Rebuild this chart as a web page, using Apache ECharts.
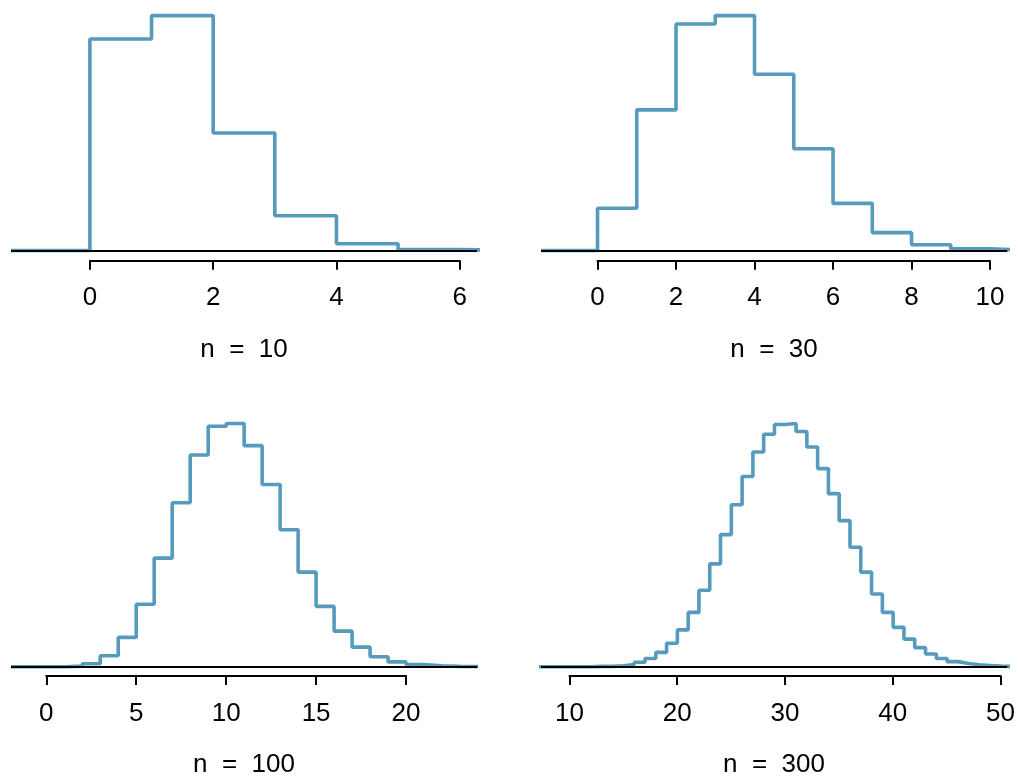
<!DOCTYPE html>
<html>
<head>
<meta charset="utf-8">
<script src="https://cdn.jsdelivr.net/npm/echarts@6/dist/echarts.min.js"></script>
<style>
html,body{margin:0;padding:0;background:#fff;}
#chart{width:1018px;height:776px;}
</style>
</head>
<body>
<div id="chart"></div>
<script>
// ---- data ----
const k10 = [0, 1, 2, 3, 4, 5, 6, 7];
const p10 = [0.3487, 0.3874, 0.1937, 0.0574, 0.0112, 0.0015, 0.0001, 0.0000];

const k30 = [0, 1, 2, 3, 4, 5, 6, 7, 8, 9, 10, 11];
const p30 = [0.0424, 0.1413, 0.2277, 0.2361, 0.1771, 0.1023, 0.0474, 0.0180, 0.0058, 0.0016, 0.0004, 0.0001];

const k100 = [0, 1, 2, 3, 4, 5, 6, 7, 8, 9, 10, 11, 12, 13, 14, 15, 16, 17, 18, 19, 20, 21, 22, 23, 24];
const p100 = [0.0000, 0.0003, 0.0016, 0.0059, 0.0159, 0.0339, 0.0589, 0.0889, 0.1148, 0.1304, 0.1319, 0.1199,
              0.0988, 0.0743, 0.0513, 0.0327, 0.0193, 0.0106, 0.0054, 0.0026, 0.0012, 0.0005, 0.0002, 0.0001, 0.0000];

const k300 = [7, 8, 9, 10, 11, 12, 13, 14, 15, 16, 17, 18, 19, 20, 21, 22, 23, 24, 25, 26, 27, 28, 29,
              30, 31, 32, 33, 34, 35, 36, 37, 38, 39, 40, 41, 42, 43, 44, 45, 46, 47, 48, 49, 50, 51];
const p300 = [0.0000, 0.0000, 0.0000, 0.0000, 0.0000, 0.0001, 0.0001, 0.0003, 0.0007, 0.0014, 0.0026, 0.0045, 0.0074,
              0.0116, 0.0171, 0.0241, 0.0324, 0.0416, 0.0510, 0.0599, 0.0676, 0.0732, 0.0763,
              0.0766, 0.0741, 0.0692, 0.0624, 0.0545, 0.0460, 0.0376, 0.0298, 0.0229, 0.0171, 0.0124,
              0.0087, 0.0060, 0.0040, 0.0026, 0.0016, 0.0010, 0.0006, 0.0004, 0.0002, 0.0001, 0.0001];

const ticks10 = [0, 2, 4, 6];
const ticks30 = [0, 2, 4, 6, 8, 10];
const ticks100 = [0, 5, 10, 15, 20];
const ticks300 = [10, 20, 30, 40, 50];

const titles = ['n  =  10', 'n  =  30', 'n  =  100', 'n  =  300'];

// ---- layout ----
const panels = [
  {k: k10,  p: p10,  ticks: ticks10,  title: titles[0], plotL: 11,  plotR: 477,    xMin: -1.28, xMax: 6.28,  base: 250.5, peak: 15.6,  axisY: 260.7, tx: 244, ty: 350},
  {k: k30,  p: p30,  ticks: ticks30,  title: titles[1], plotL: 541, plotR: 1007.3, xMin: -1.44, xMax: 10.44, base: 250.5, peak: 15.6,  axisY: 260.7, tx: 774, ty: 350},
  {k: k100, p: p100, ticks: ticks100, title: titles[2], plotL: 11,  plotR: 477.3,  xMin: -1.96, xMax: 23.96, base: 666.7, peak: 423.5, axisY: 676,   tx: 244, ty: 765},
  {k: k300, p: p300, ticks: ticks300, title: titles[3], plotL: 541, plotR: 1007.3, xMin: 7.36,  xMax: 50.58, base: 666.7, peak: 423.5, axisY: 676,   tx: 774, ty: 765}
];

const BLUE = '#569BBD';
const FONT = 'Liberation Sans';
const grids = [], xAxes = [], yAxes = [], series = [], graphics = [];

function px(p, v) { return p.plotL + (v - p.xMin) / (p.xMax - p.xMin) * (p.plotR - p.plotL); }

panels.forEach((p, i) => {
  const pad = 8;
  const maxV = Math.max(...p.p);
  const s = (p.base - p.peak) / maxV;
  // data grid
  grids.push({left: p.plotL, width: p.plotR - p.plotL, top: p.peak - pad, height: (p.base + pad) - (p.peak - pad)});
  xAxes.push({gridIndex: 2 * i, type: 'value', min: p.xMin, max: p.xMax, show: false});
  yAxes.push({gridIndex: 2 * i, type: 'value', min: -pad / s, max: maxV + pad / s, show: false});
  // axis grid (ticks span first..last tick only)
  const t0 = p.ticks[0], tN = p.ticks[p.ticks.length - 1];
  const a0 = px(p, t0), aN = px(p, tN);
  grids.push({left: a0, width: aN - a0, top: p.axisY - 10, height: 10});
  xAxes.push({
    gridIndex: 2 * i + 1, type: 'value', position: 'bottom',
    min: t0, max: tN, interval: p.ticks[1] - p.ticks[0],
    axisLine: {show: true, lineStyle: {color: '#000', width: 2}},
    axisTick: {show: true, length: 9, lineStyle: {color: '#000', width: 2}},
    axisLabel: {show: true, margin: 24.5, color: '#000', fontSize: 26, fontFamily: FONT, showMinLabel: true, showMaxLabel: true},
    splitLine: {show: false}
  });
  yAxes.push({gridIndex: 2 * i + 1, type: 'value', show: false});

  const data = [[p.xMin, 0]].concat(p.k.map((k, j) => [k, p.p[j]]));
  series.push({
    type: 'line', xAxisIndex: 2 * i, yAxisIndex: 2 * i,
    step: 'end', symbol: 'none', showSymbol: false, clip: true, animation: false,
    data: data,
    lineStyle: {color: BLUE, width: 3.6},
    emphasis: {disabled: true},
    markLine: {
      silent: true, symbol: ['none', 'none'], animation: false,
      label: {show: false},
      lineStyle: {color: '#000', width: 2, type: 'solid'},
      emphasis: {disabled: true},
      data: [{yAxis: 0}]
    }
  });

  graphics.push({
    type: 'text', x: p.tx, y: p.ty,
    style: {text: p.title, fill: '#000', fontSize: 26, fontFamily: FONT,
            textAlign: 'center', textVerticalAlign: 'middle', verticalAlign: 'middle'}
  });
});

const chart = echarts.init(document.getElementById('chart'), null, {renderer: 'canvas'});
chart.setOption({
  animation: false,
  backgroundColor: '#fff',
  grid: grids,
  xAxis: xAxes,
  yAxis: yAxes,
  series: series,
  graphic: graphics,
  tooltip: {show: false}
});
</script>
</body>
</html>
